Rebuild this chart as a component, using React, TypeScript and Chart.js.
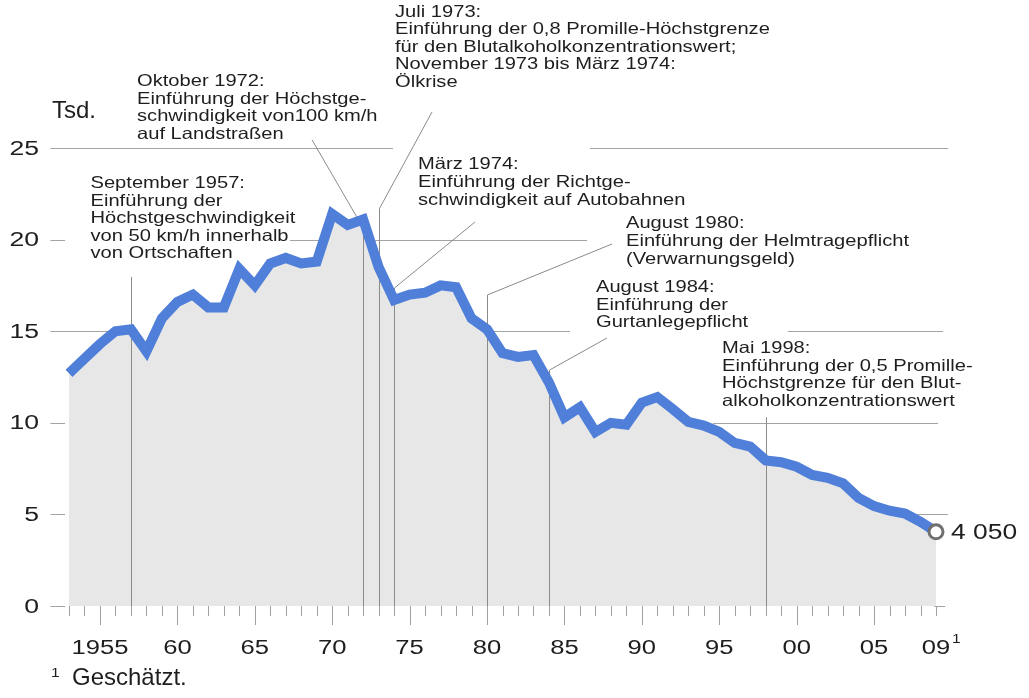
import React, { useEffect, useRef } from "react";
import { Chart, registerables } from "chart.js";
Chart.register(...registerables);

// ---- data (thousands of road deaths) ----
const years = [
  1953, 1954, 1955, 1956, 1957, 1958, 1959, 1960, 1961, 1962, 1963, 1964, 1965, 1966, 1967, 1968, 1969,
  1970, 1971, 1972, 1973, 1974, 1975, 1976, 1977, 1978, 1979, 1980, 1981, 1982, 1983, 1984, 1985, 1986,
  1987, 1988, 1989, 1990, 1991, 1992, 1993, 1994, 1995, 1996, 1997, 1998, 1999, 2000, 2001, 2002, 2003,
  2004, 2005, 2006, 2007, 2008, 2009,
];
const deaths = [
  12.7, 13.5, 14.3, 15.0, 15.1, 13.9, 15.7, 16.6, 17.0, 16.3, 16.3, 18.4, 17.5, 18.7, 19.0, 18.7, 18.8,
  21.4, 20.8, 21.1, 18.5, 16.7, 17.0, 17.1, 17.5, 17.4, 15.7, 15.1, 13.8, 13.6, 13.7, 12.2, 10.3, 10.85,
  9.5, 10.0, 9.9, 11.1, 11.4, 10.75, 10.05, 9.85, 9.5, 8.9, 8.7, 7.95, 7.85, 7.6, 7.15, 7.0, 6.7,
  5.9, 5.45, 5.2, 5.05, 4.6, 4.05,
];
const yTicks = [0, 5, 10, 15, 20, 25];
const xTickYears = [1955, 1960, 1965, 1970, 1975, 1980, 1985, 1990, 1995, 2000, 2005, 2009];
const xTickLabels = ["1955", "60", "65", "70", "75", "80", "85", "90", "95", "00", "05", "09"];
const lastValueLabel = "4 050";

// annotation events: year of the vertical marker line
const eventYears = [1957, 1972, 1973, 1974, 1980, 1984, 1998];

// ---- layout / styling ----
const W = 1029;
const H = 698;
const FONT = '"Liberation Sans", Arial, Helvetica, sans-serif';
const TEXT = "#1e1e1e";
const BLUE = "#4f7fd8";
const FILL = "#e7e7e7";

// gridline segments [value, [[yearFrom, yearTo], ...]]
const gridSegments: [number, [number, number][]][] = [
  [25, [[1951.8, 1973.93], [1986.65, 2009.78]]],
  [20, [[1951.8, 1952.75], [1967.27, 1986.46]]],
  [15, [[1951.8, 1957.0], [1980.2, 1985.36], [1999.44, 2009.45]]],
  [10, [[1951.8, 1952.75], [1994.6, 2009.13]]],
  [5, [[1951.8, 1952.75], [2007.64, 2009.78]]],
  [0, [[1951.8, 1952.75], [2008.9, 2009.6]]],
];

// leader lines in data space: list of [year, value] points
const leaders: [number, number][][] = [
  [[1957, 17.96], [1957, 0]],
  [[1968.7, 25.44], [1972, 20.6], [1972, 0]],
  [[1976.45, 26.97], [1973, 21.7], [1973, 0]],
  [[1979.22, 20.96], [1974, 17.36], [1974, 0]],
  [[1988.07, 19.76], [1980, 16.98], [1980, 0]],
  [[1987.75, 14.63], [1984, 12.88], [1984, 0]],
  [[1998, 10.3], [1998, 0]],
];

type Block = { x: number; y0: number; dy: number; lines: string[] };
const blocks: Block[] = [
  { x: 90.5, y0: 188, dy: 17.5, lines: ["September 1957:", "Einführung der", "Höchstgeschwindigkeit", "von 50 km/h innerhalb", "von Ortschaften"] },
  { x: 137, y0: 86, dy: 17.5, lines: ["Oktober 1972:", "Einführung der Höchstge-", "schwindigkeit von100 km/h", "auf Landstraßen"] },
  { x: 395, y0: 17, dy: 17.4, lines: ["Juli 1973:", "Einführung der 0,8 Promille-Höchstgrenze", "für den Blutalkoholkonzentrationswert;", "November 1973 bis März 1974:", "Ölkrise"] },
  { x: 418, y0: 169, dy: 18, lines: ["März 1974:", "Einführung der Richtge-", "schwindigkeit auf Autobahnen"] },
  { x: 626, y0: 228, dy: 18, lines: ["August 1980:", "Einführung der Helmtragepflicht", "(Verwarnungsgeld)"] },
  { x: 596, y0: 292, dy: 17.5, lines: ["August 1984:", "Einführung der", "Gurtanlegepflicht"] },
  { x: 722, y0: 353, dy: 17.7, lines: ["Mai 1998:", "Einführung der 0,5 Promille-", "Höchstgrenze für den Blut-", "alkoholkonzentrationswert"] },
];

function txt(
  ctx: CanvasRenderingContext2D,
  s: string,
  x: number,
  y: number,
  size: number,
  sx: number,
  align: CanvasTextAlign = "left",
  baseline: CanvasTextBaseline = "alphabetic"
) {
  ctx.save();
  ctx.translate(x, y);
  ctx.scale(sx, 1);
  ctx.font = `${size}px ${FONT}`;
  ctx.fillStyle = TEXT;
  ctx.textAlign = align;
  ctx.textBaseline = baseline;
  ctx.fillText(s, 0, 0);
  ctx.restore();
}

const decorPlugin = {
  id: "decor",
  beforeDatasetsDraw(chart: any) {
    const { ctx, scales } = chart;
    const xs = scales.x;
    const ys = scales.y;
    ctx.save();
    ctx.strokeStyle = "#a3a3a3";
    ctx.lineWidth = 1;
    gridSegments.forEach(([v, segs]) => {
      const py = Math.round(ys.getPixelForValue(v)) + 0.5;
      segs.forEach(([a, b]) => {
        ctx.beginPath();
        ctx.moveTo(xs.getPixelForValue(a), py);
        ctx.lineTo(xs.getPixelForValue(b), py);
        ctx.stroke();
      });
    });
    ctx.restore();
  },
  afterDatasetDraw(chart: any, args: any) {
    if (args.index !== 1) return;
    const { ctx, scales } = chart;
    const xs = scales.x;
    const ys = scales.y;
    ctx.save();
    ctx.strokeStyle = "#8a8a8a";
    ctx.lineWidth = 1;
    leaders.forEach((pts) => {
      ctx.beginPath();
      pts.forEach(([yr, v], i) => {
        let px = xs.getPixelForValue(yr);
        const py = ys.getPixelForValue(v);
        if (pts.length > 1 && i > 0 && pts[i - 1][0] === yr) px = Math.round(px) + 0.5;
        if (i < pts.length - 1 && pts[i + 1][0] === yr) px = Math.round(px) + 0.5;
        if (i === 0) ctx.moveTo(px, py);
        else ctx.lineTo(px, py);
      });
      ctx.stroke();
    });
    ctx.restore();
  },
  afterDraw(chart: any) {
    const { ctx, scales } = chart;
    const xs = scales.x;
    const ys = scales.y;
    const base = ys.getPixelForValue(0);
    // year ticks
    ctx.save();
    ctx.strokeStyle = "#a0a0a0";
    ctx.lineWidth = 1;
    for (let yr = years[0]; yr <= years[years.length - 1]; yr++) {
      const px = Math.round(xs.getPixelForValue(yr)) + 0.5;
      const len = yr % 5 === 0 ? 19 : 10;
      ctx.beginPath();
      ctx.moveTo(px, base);
      ctx.lineTo(px, base + len);
      ctx.stroke();
    }
    ctx.restore();
    // x labels
    xTickYears.forEach((yr, i) => {
      txt(ctx, xTickLabels[i], xs.getPixelForValue(yr), base + 48, 20, 1.28, "center");
    });
    const lastX = xs.getPixelForValue(xTickYears[xTickYears.length - 1]);
    txt(ctx, "1", lastX + 16, base + 37, 13, 1.2, "left");
    // y labels
    yTicks.forEach((v) => {
      txt(ctx, String(v), 39, ys.getPixelForValue(v) + 1, 20, 1.33, "right", "middle");
    });
    txt(ctx, "Tsd.", 52, 118, 24, 1.0, "left");
    // last value label
    const lx = xs.getPixelForValue(years[years.length - 1]);
    const ly = ys.getPixelForValue(deaths[deaths.length - 1]);
    txt(ctx, lastValueLabel, lx + 15, ly + 1, 22, 1.2, "left", "middle");
    // footnote
    txt(ctx, "1", 51, 677, 13, 1.2, "left");
    txt(ctx, "Geschätzt.", 72, 685, 24, 1.0, "left");
    // annotation blocks
    blocks.forEach((b) => {
      b.lines.forEach((line, i) => {
        txt(ctx, line, b.x, b.y0 + i * b.dy, 16.5, 1.22, "left");
      });
    });
  },
};

export default function App() {
  const ref = useRef<HTMLCanvasElement | null>(null);
  useEffect(() => {
    if (!ref.current) return;
    const points = years.map((yr, i) => ({ x: yr, y: deaths[i] }));
    const last = deaths.length - 1;
    const chart = new Chart(ref.current, {
      type: "line",
      data: {
        datasets: [
          {
            data: points,
            borderColor: BLUE,
            borderWidth: 10,
            borderJoinStyle: "miter",
            borderCapStyle: "butt",
            tension: 0,
            fill: false,
            clip: false as any,
            pointRadius: (c: any) => (c.dataIndex === last ? 7 : 0),
            pointHoverRadius: (c: any) => (c.dataIndex === last ? 7 : 0),
            pointBackgroundColor: "#ffffff",
            pointBorderColor: "#707070",
            pointBorderWidth: 3,
          },
          {
            data: points,
            borderWidth: 0,
            borderColor: "rgba(0,0,0,0)",
            backgroundColor: FILL,
            fill: "origin",
            tension: 0,
            pointRadius: 0,
          },
        ],
      },
      options: {
        animation: false,
        responsive: false,
        devicePixelRatio: 1,
        events: [],
        layout: { padding: { left: 69, right: W - 936, top: 148, bottom: H - 606 } },
        scales: {
          x: { type: "linear", min: 1953, max: 2009, display: false },
          y: { type: "linear", min: 0, max: 25, display: false },
        },
        plugins: { legend: { display: false }, tooltip: { enabled: false } },
      },
      plugins: [decorPlugin],
    });
    return () => chart.destroy();
  }, []);
  return (
    <div style={{ position: "fixed", left: 0, top: 0, width: W, height: H, background: "#fff" }}>
      <canvas ref={ref} width={W} height={H} style={{ display: "block", width: W, height: H }} />
    </div>
  );
}
